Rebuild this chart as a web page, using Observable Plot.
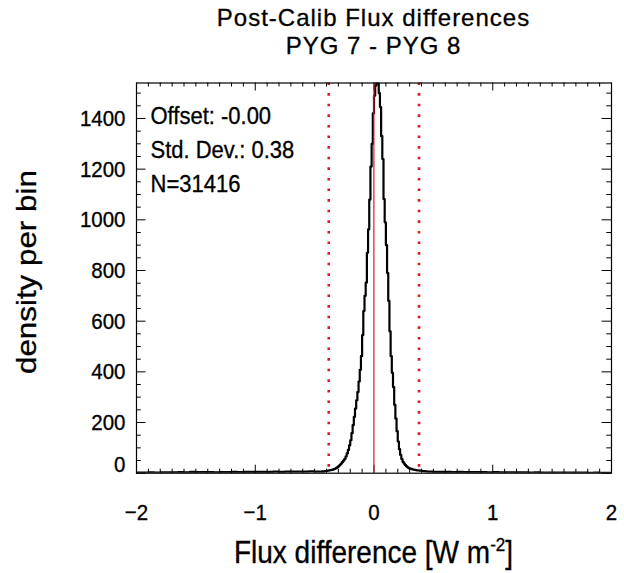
<!DOCTYPE html>
<html>
<head>
<meta charset="utf-8">
<script src="https://cdn.jsdelivr.net/npm/d3@7"></script>
<script src="https://cdn.jsdelivr.net/npm/@observablehq/plot@0.6"></script>
<style>
  body { margin: 0; background: #fff; font-family: "Liberation Sans", Arial, Helvetica, sans-serif; color: #000; }
  #wrap { position: relative; width: 624px; height: 573px; overflow: hidden; }
  .tline { position: absolute; left: 136px; width: 475px; text-align: center; font-size: 24px; line-height: 28px; letter-spacing: 1px; -webkit-text-stroke: 0.3px #000; white-space: nowrap; }
  #t1 { top: 4px; }
  #t2 { top: 32px; }
  #chart { position: absolute; left: 0; top: 60px; }
  #chart text { stroke: #000; stroke-width: 0.3px; }
  #xlabel { position: absolute; left: 136px; top: 537px; width: 475px; text-align: center; font-size: 28px; line-height: 32px; transform: scaleY(1.1); transform-origin: 50% 50%; -webkit-text-stroke: 0.3px #000; }
  #xlabel sup { font-size: 17px; vertical-align: 11px; line-height: 0; }
</style>
</head>
<body>
<div id="wrap">
  <div class="tline" id="t1">Post-Calib Flux differences</div>
  <div class="tline" id="t2">PYG 7 - PYG 8</div>
  <div id="chart"></div>
  <div id="xlabel">Flux difference [W m<sup>-2</sup>]</div>
</div>
<script>
// ---- data ----
const offset = -0.001;      // shown as "-0.00"
const stdDev = 0.38;
const nSamples = 31416;

// tails: coarse bins (left edges), counts per 0.01-wide bin
const leftTailEdges = [-2.00,-1.95,-1.90,-1.85,-1.80,-1.75,-1.70,-1.65,-1.60,-1.55,-1.50,-1.45,-1.40,-1.35,-1.30,-1.25,-1.20,-1.15,-1.10,-1.05,-1.00,-0.95,-0.90,-0.85,-0.80,-0.75,-0.70,-0.65,-0.60,-0.55,-0.50];
const leftTailCounts = [2,2,3,2,3,3,3,4,3,5,4,4,4,3,4,4,5,4,5,5,5,5,5,6,5,6,6,6,6,7,6];

// core: 0.01-wide bins from -0.45 to 0.45 (left edges)
const coreStart = -0.45, coreStep = 0.01;
const coreCounts = [
  6,7,6,8,8,9,10,11,12,13,
  14,16,18,21,24,28,33,38,44,50,
  56,66,78,92,110,130,158,190,222,255,
  288,320,362,408,462,545,640,700,752,870,
  962,1080,1210,1300,1420,
  1490,1530,1560,1545,1500,1445,1330,1240,1082,990,
  900,790,680,560,462,396,340,270,215,166,
  125,95,72,56,45,38,32,27,23,20,
  18,17,15,14,13,12,11,11,10,10,
  9,8,8,7,7,6
];

const rightTailEdges = [0.46,0.50,0.55,0.60,0.65,0.70,0.75,0.80,0.85,0.90,0.95,1.00,1.05,1.10,1.15,1.20,1.25,1.30,1.35,1.40,1.45,1.50,1.55,1.60,1.65,1.70,1.75,1.80,1.85,1.90,1.95];
const rightTailCounts = [6,5,5,5,4,5,4,4,4,4,3,4,3,3,3,3,3,2,3,2,2,2,2,2,2,2,2,1,2,1,1];

const xMajorTicks = [-2, -1, 0, 1, 2];
const xMinorTicks = d3.range(-20, 21).filter(i => i % 10 !== 0).map(i => i / 10);
const yMajorTicks = [0, 200, 400, 600, 800, 1000, 1200, 1400];
const yMinorTicks = d3.range(0, 1550, 50).filter(v => v % 200 !== 0);

// ---- build histogram steps ----
const hist = [];
leftTailEdges.forEach((e, i) => hist.push({x: e, y: leftTailCounts[i]}));
coreCounts.forEach((c, i) => hist.push({x: +(coreStart + i * coreStep).toFixed(2), y: c}));
rightTailEdges.forEach((e, i) => hist.push({x: e, y: rightTailCounts[i]}));
hist.push({x: 2, y: rightTailCounts[rightTailCounts.length - 1]});

// ---- layout ----
const W = 624, H = 470, mT = 22.5, mB = 57.3, mL = 136, mR = 13;
const plotH = H - mT - mB;
const plotW = W - mL - mR;
const red = "#e3171f";
const font = "'Liberation Sans', Arial, Helvetica, sans-serif";
const fmtX = d => (d < 0 ? "\u2212" + Math.abs(d) : String(d));

const chart = Plot.plot({
  width: W, height: H,
  marginTop: mT, marginBottom: mB, marginLeft: mL, marginRight: mR,
  style: {fontFamily: font, fontSize: "22px", color: "#000", background: "#fff", overflow: "visible"},
  x: {domain: [-2, 2]},
  y: {domain: [0, 1540]},
  marks: [
    Plot.line(hist, {x: "x", y: "y", curve: "step-after", stroke: "#000", strokeWidth: 2.2, clip: true}),
    // inward ticks on all four sides
    Plot.ruleX(xMajorTicks, {stroke: "#000", insetTop: plotH - 8}),
    Plot.ruleX(xMajorTicks, {stroke: "#000", insetBottom: plotH - 8}),
    Plot.ruleX(xMinorTicks, {stroke: "#000", insetTop: plotH - 4}),
    Plot.ruleX(xMinorTicks, {stroke: "#000", insetBottom: plotH - 4}),
    Plot.ruleY(yMajorTicks, {stroke: "#000", insetRight: plotW - 9.5}),
    Plot.ruleY(yMajorTicks, {stroke: "#000", insetLeft: plotW - 9.5}),
    Plot.ruleY(yMinorTicks, {stroke: "#000", insetRight: plotW - 4.75}),
    Plot.ruleY(yMinorTicks, {stroke: "#000", insetLeft: plotW - 4.75}),
    // offset and +/- std dev
    Plot.ruleX([offset], {stroke: red, strokeWidth: 1.2}),
    Plot.ruleX([offset - stdDev, offset + stdDev], {stroke: red, strokeWidth: 2.6, strokeDasharray: "2.6,8"}),
    Plot.frame({stroke: "#000", strokeWidth: 1.2}),
    // tick labels
    Plot.axisX(xMajorTicks, {tickSize: 0, tickPadding: 31, tickFormat: fmtX, fontSize: 20.5, label: null}),
    Plot.axisY(yMajorTicks.filter(d => d > 0), {tickSize: 0, tickPadding: 11, tickFormat: d => String(d), fontSize: 20.5, label: null}),
    Plot.axisY([0], {tickSize: 0, tickPadding: 11, tickFormat: d => String(d), fontSize: 20.5, dy: -9, label: null}),
    // y label
    Plot.text(["density per bin"], {frameAnchor: "left", dx: -109, dy: -6, rotate: -90, textAnchor: "middle", fontSize: 28, text: d => d}),
    // annotations
    Plot.text(["Offset: " + offset.toFixed(2)], {frameAnchor: "top-left", dx: 14, dy: 24.5, textAnchor: "start", fontSize: 22, text: d => d}),
    Plot.text(["Std. Dev.: " + stdDev.toFixed(2)], {frameAnchor: "top-left", dx: 14, dy: 58.5, textAnchor: "start", fontSize: 22, text: d => d}),
    Plot.text(["N=" + nSamples], {frameAnchor: "top-left", dx: 14, dy: 92.5, textAnchor: "start", fontSize: 22, text: d => d})
  ]
});
document.getElementById("chart").appendChild(chart);

// slight vertical stretch of the lettering, as in the reference rendering
const S = 1.12;
d3.select(chart).selectAll("text").each(function() {
  const bb = this.getBBox();
  const cx = bb.x + bb.width / 2, cy = bb.y + bb.height / 2;
  const t = this.getAttribute("transform") || "";
  const sc = /rotate/.test(t) ? `scale(${S},1)` : `scale(1,${S})`;
  this.setAttribute("transform", `${t} translate(${cx},${cy}) ${sc} translate(${-cx},${-cy})`);
});
</script>
</body>
</html>
